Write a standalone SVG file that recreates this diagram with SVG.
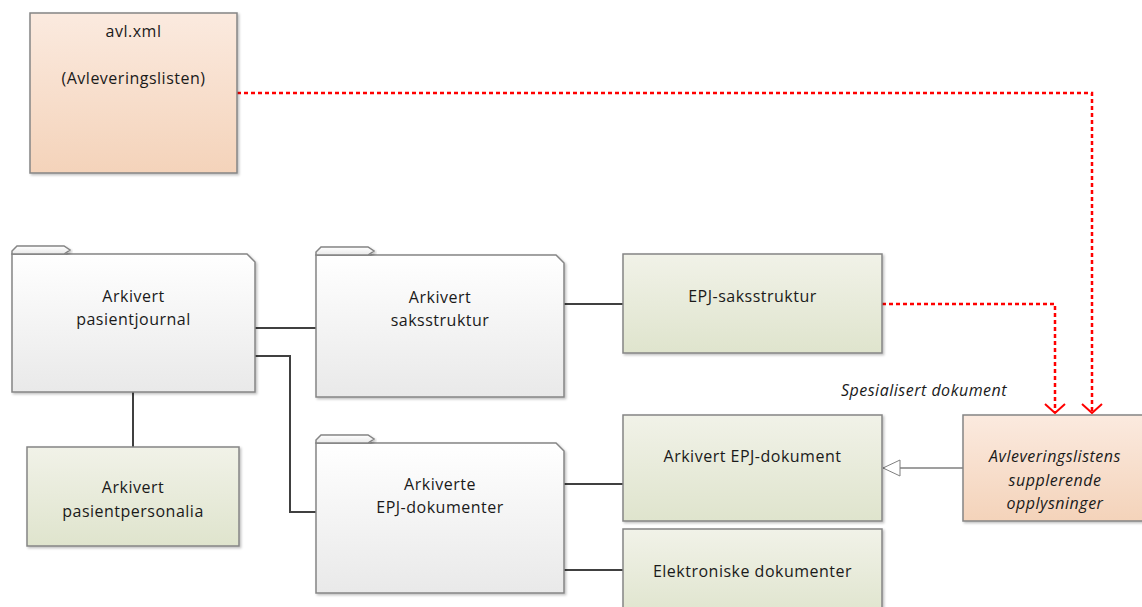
<svg xmlns="http://www.w3.org/2000/svg" width="1142" height="607" viewBox="0 0 1142 607">
  <defs>
    <linearGradient id="gPeach" x1="0" y1="0" x2="0" y2="1">
      <stop offset="0" stop-color="#fbeadf"/>
      <stop offset="1" stop-color="#f4d3ba"/>
    </linearGradient>
    <linearGradient id="gFolder" x1="0" y1="0" x2="0" y2="1">
      <stop offset="0" stop-color="#ffffff"/>
      <stop offset="1" stop-color="#e9e9e9"/>
    </linearGradient>
    <linearGradient id="gGreen" x1="0" y1="0" x2="0" y2="1">
      <stop offset="0" stop-color="#f1f2e8"/>
      <stop offset="1" stop-color="#dfe4cd"/>
    </linearGradient>
    <filter id="shadow" x="-5%" y="-5%" width="110%" height="110%">
      <feDropShadow dx="1.5" dy="1.5" stdDeviation="1" flood-color="#000" flood-opacity="0.25"/>
    </filter>
    <!-- open V head for dependencies -->
    <marker id="openRed" markerWidth="12" markerHeight="22" refX="11" refY="11" orient="auto" markerUnits="userSpaceOnUse" viewBox="0 0 12 22">
      <path d="M2,1 L11,11 L2,21" fill="none" stroke="#ff0000" stroke-width="2"/>
    </marker>
    <!-- hollow triangle for generalization -->
    <marker id="hollowTri" markerWidth="20" markerHeight="20" refX="18" refY="10" orient="auto" markerUnits="userSpaceOnUse" viewBox="0 0 20 20">
      <path d="M18,10 L1,2 L1,18 Z" fill="#ffffff" stroke="#7f7f7f" stroke-width="1"/>
    </marker>
  </defs>
  <style>
    .box { stroke: #858585; stroke-width: 1.5; filter: url(#shadow); }
    .peach { fill: url(#gPeach); }
    .folder { fill: url(#gFolder); }
    .green { fill: url(#gGreen); }
    .lbl { font-family: "Open Sans", "Liberation Sans", sans-serif; font-size: 16px; letter-spacing: 0.5px; fill: #1a1a1a; text-anchor: middle; }
    .it { font-style: italic; }
    .conn { fill: none; stroke: #404040; stroke-width: 2; }
    .dep { fill: none; stroke: #ff0000; stroke-width: 2.5; stroke-dasharray: 4 3; }
    .gen { fill: none; stroke: #7f7f7f; stroke-width: 1.5; }
  </style>

  <rect width="1142" height="607" fill="#ffffff"/>

  <!-- connectors -->
  <g id="connectors">
    <path class="conn" d="M255,328 H316"/>
    <path class="conn" d="M255,356 H290 V512 H316"/>
    <path class="conn" d="M133,392 V447"/>
    <path class="conn" d="M564,304 H623"/>
    <path class="conn" d="M564,484 H623"/>
    <path class="conn" d="M564,570 H623"/>
    <path class="dep" d="M237,93 H1092 V413" marker-end="url(#openRed)"/>
    <path class="dep" d="M882,304 H1055 V413" marker-end="url(#openRed)"/>
    <path class="gen" d="M963,468 H883" marker-end="url(#hollowTri)"/>
    <text class="lbl it" x="924" y="396">Spesialisert dokument</text>
  </g>

  <!-- avl.xml -->
  <g id="avl">
    <rect class="box peach" x="30" y="13" width="207" height="160"/>
    <text class="lbl" x="133.5" y="37">avl.xml</text>
    <text class="lbl" x="133.5" y="84">(Avleveringslisten)</text>
  </g>

  <!-- Arkivert pasientjournal (package) -->
  <g id="pasientjournal">
    <path class="box folder" d="M12,392 V254 H247 L255,262 V392 Z"/>
    <path class="box folder" d="M12,254 V251 L17,246 H64 L70,250 L64,254 Z"/>
    <text class="lbl" x="133.5" y="302">Arkivert</text>
    <text class="lbl" x="133.5" y="325">pasientjournal</text>
  </g>

  <!-- Arkivert saksstruktur (package) -->
  <g id="saksstruktur">
    <path class="box folder" d="M316,397 V255 H556 L564,263 V397 Z"/>
    <path class="box folder" d="M316,255 V252 L321,247 H368 L374,251 L368,255 Z"/>
    <text class="lbl" x="440" y="303">Arkivert</text>
    <text class="lbl" x="440" y="326">saksstruktur</text>
  </g>

  <!-- Arkiverte EPJ-dokumenter (package) -->
  <g id="epjdokumenter">
    <path class="box folder" d="M316,593 V443 H556 L564,451 V593 Z"/>
    <path class="box folder" d="M316,443 V440 L321,435 H368 L374,439 L368,443 Z"/>
    <text class="lbl" x="440" y="490">Arkiverte</text>
    <text class="lbl" x="440" y="513">EPJ-dokumenter</text>
  </g>

  <!-- Arkivert pasientpersonalia -->
  <g id="pasientpersonalia">
    <rect class="box green" x="27" y="447" width="212" height="99"/>
    <text class="lbl" x="133" y="493">Arkivert</text>
    <text class="lbl" x="133" y="517">pasientpersonalia</text>
  </g>

  <!-- EPJ-saksstruktur -->
  <g id="epjsaksstruktur">
    <rect class="box green" x="623" y="254" width="259" height="99"/>
    <text class="lbl" x="752.5" y="302">EPJ-saksstruktur</text>
  </g>

  <!-- Arkivert EPJ-dokument -->
  <g id="epjdokument">
    <rect class="box green" x="623" y="415" width="259" height="106"/>
    <text class="lbl" x="752.5" y="462">Arkivert EPJ-dokument</text>
  </g>

  <!-- Elektroniske dokumenter -->
  <g id="elektroniske">
    <rect class="box green" x="623" y="529" width="259" height="90"/>
    <text class="lbl" x="752.5" y="577">Elektroniske dokumenter</text>
  </g>

  <!-- Avleveringslistens supplerende opplysninger -->
  <g id="supplerende">
    <rect class="box peach" x="963" y="415" width="190" height="106"/>
    <text class="lbl it" x="1055" y="462">Avleveringslistens</text>
    <text class="lbl it" x="1055" y="486">supplerende</text>
    <text class="lbl it" x="1055" y="509">opplysninger</text>
  </g>
</svg>
